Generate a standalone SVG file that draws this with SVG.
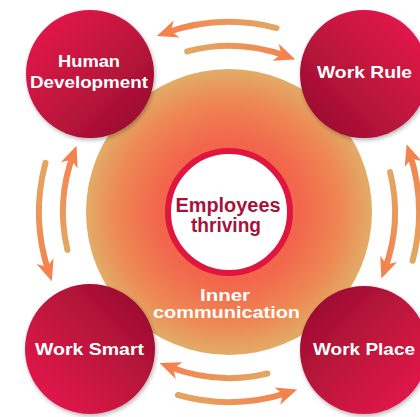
<svg xmlns="http://www.w3.org/2000/svg" width="420" height="417" viewBox="0 0 420 417">
<style>
.nt{font-family:"Liberation Sans",Arial,sans-serif;font-weight:bold;font-size:17px;fill:#ffffff;text-anchor:middle}
.ic{font-size:16px}
.ct{font-family:"Liberation Sans",Arial,sans-serif;font-weight:bold;font-size:20px;fill:#a8123a;text-anchor:middle}
.arc{fill:none;stroke-width:6;stroke-linecap:round;marker-end:url(#ah)}
</style>
<defs>
<radialGradient id="og" cx="229" cy="212" r="143" gradientUnits="userSpaceOnUse">
<stop offset="0" stop-color="#f25548"/>
<stop offset="0.5" stop-color="#f2674c"/>
<stop offset="0.78" stop-color="#ef8753"/>
<stop offset="1" stop-color="#e2ac67"/>
</radialGradient>
<linearGradient id="g1" x1="0" y1="0" x2="1" y2="1"><stop offset="0.1" stop-color="#e4184a"/><stop offset="0.9" stop-color="#9b0f30"/></linearGradient>
<linearGradient id="g2" x1="1" y1="0" x2="0" y2="1"><stop offset="0.1" stop-color="#e4184a"/><stop offset="0.9" stop-color="#9b0f30"/></linearGradient>
<linearGradient id="g3" x1="0" y1="1" x2="1" y2="0"><stop offset="0.1" stop-color="#e4184a"/><stop offset="0.9" stop-color="#9b0f30"/></linearGradient>
<linearGradient id="g4" x1="1" y1="1" x2="0" y2="0"><stop offset="0.1" stop-color="#e4184a"/><stop offset="0.9" stop-color="#9b0f30"/></linearGradient>
<filter id="sh" x="-20%" y="-20%" width="140%" height="140%">
<feDropShadow dx="1" dy="2" stdDeviation="2" flood-color="#000" flood-opacity="0.3"/>
</filter>
<marker id="ah" markerUnits="userSpaceOnUse" markerWidth="30" markerHeight="30" refX="0" refY="0" viewBox="-15 -15 30 30" orient="auto" overflow="visible">
<path d="M-12,-9 L9,0 L-12,9 L-6,0 Z" fill="#f4824f"/>
</marker>
<linearGradient id="a1" gradientUnits="userSpaceOnUse" x1="276.6" y1="28.1" x2="165.3" y2="33"><stop offset="0" stop-color="#e2a763"/><stop offset="1" stop-color="#f5824f"/></linearGradient>
<linearGradient id="a2" gradientUnits="userSpaceOnUse" x1="187.2" y1="51.4" x2="286.9" y2="56.4"><stop offset="0" stop-color="#e2a763"/><stop offset="1" stop-color="#f5824f"/></linearGradient>
<linearGradient id="a3" gradientUnits="userSpaceOnUse" x1="390.1" y1="172.1" x2="384.5" y2="270.1"><stop offset="0" stop-color="#e2a763"/><stop offset="1" stop-color="#f5824f"/></linearGradient>
<linearGradient id="a4" gradientUnits="userSpaceOnUse" x1="412.6" y1="260.8" x2="409.5" y2="152.7"><stop offset="0" stop-color="#e2a763"/><stop offset="1" stop-color="#f5824f"/></linearGradient>
<linearGradient id="a5" gradientUnits="userSpaceOnUse" x1="267.5" y1="373.5" x2="167.9" y2="366.3"><stop offset="0" stop-color="#e2a763"/><stop offset="1" stop-color="#f5824f"/></linearGradient>
<linearGradient id="a6" gradientUnits="userSpaceOnUse" x1="177.9" y1="395" x2="288.7" y2="392.4"><stop offset="0" stop-color="#e2a763"/><stop offset="1" stop-color="#f5824f"/></linearGradient>
<linearGradient id="a7" gradientUnits="userSpaceOnUse" x1="45.5" y1="162.8" x2="48.9" y2="272.6"><stop offset="0" stop-color="#e2a763"/><stop offset="1" stop-color="#f5824f"/></linearGradient>
<linearGradient id="a8" gradientUnits="userSpaceOnUse" x1="67.4" y1="249.9" x2="73.4" y2="154.1"><stop offset="0" stop-color="#e2a763"/><stop offset="1" stop-color="#f5824f"/></linearGradient>
</defs>
<rect width="420" height="417" fill="#ffffff"/>
<g id="inner-communication">
<circle cx="229" cy="212" r="143" fill="url(#og)"/>
<text class="nt ic" x="225" y="301" textLength="50" lengthAdjust="spacingAndGlyphs">Inner</text>
<text class="nt ic" x="226.5" y="318" textLength="147" lengthAdjust="spacingAndGlyphs">communication</text>
</g>
<g id="connectors">
<path class="arc" stroke="url(#a1)" d="M276.6,28.1 A190,190 0 0 0 165.3,33"/>
<path class="arc" stroke="url(#a2)" d="M187.2,51.4 A166,166 0 0 1 286.9,56.4"/>
<path class="arc" stroke="url(#a3)" d="M390.1,172.1 A166,166 0 0 1 384.5,270.1"/>
<path class="arc" stroke="url(#a4)" d="M412.6,260.8 A190,190 0 0 0 409.5,152.7"/>
<path class="arc" stroke="url(#a5)" d="M267.5,373.5 A166,166 0 0 1 167.9,366.3"/>
<path class="arc" stroke="url(#a6)" d="M177.9,395 A190,190 0 0 0 288.7,392.4"/>
<path class="arc" stroke="url(#a7)" d="M45.5,162.8 A190,190 0 0 0 48.9,272.6"/>
<path class="arc" stroke="url(#a8)" d="M67.4,249.9 A166,166 0 0 1 73.4,154.1"/>
</g>
<g id="employees-thriving">
<circle cx="229" cy="212" r="61" fill="#ffffff" stroke="#e0163f" stroke-width="6"/>
<text class="ct" x="228" y="212" textLength="105" lengthAdjust="spacingAndGlyphs">Employees</text>
<text class="ct" x="226" y="232" textLength="70" lengthAdjust="spacingAndGlyphs">thriving</text>
</g>
<g id="human-development">
<circle cx="90" cy="74" r="64" fill="url(#g1)" filter="url(#sh)"/>
<text class="nt" x="89" y="67" textLength="62" lengthAdjust="spacingAndGlyphs">Human</text>
<text class="nt" x="89" y="88" textLength="118" lengthAdjust="spacingAndGlyphs">Development</text>
</g>
<g id="work-rule">
<circle cx="364" cy="74" r="64" fill="url(#g2)" filter="url(#sh)"/>
<text class="nt" x="364.5" y="78" textLength="95" lengthAdjust="spacingAndGlyphs">Work Rule</text>
</g>
<g id="work-smart">
<circle cx="90" cy="349" r="65" fill="url(#g3)" filter="url(#sh)"/>
<text class="nt" x="89.5" y="355" textLength="109" lengthAdjust="spacingAndGlyphs">Work Smart</text>
</g>
<g id="work-place">
<circle cx="364" cy="350" r="64" fill="url(#g4)" filter="url(#sh)"/>
<text class="nt" x="364" y="355" textLength="102" lengthAdjust="spacingAndGlyphs">Work Place</text>
</g>
</svg>
